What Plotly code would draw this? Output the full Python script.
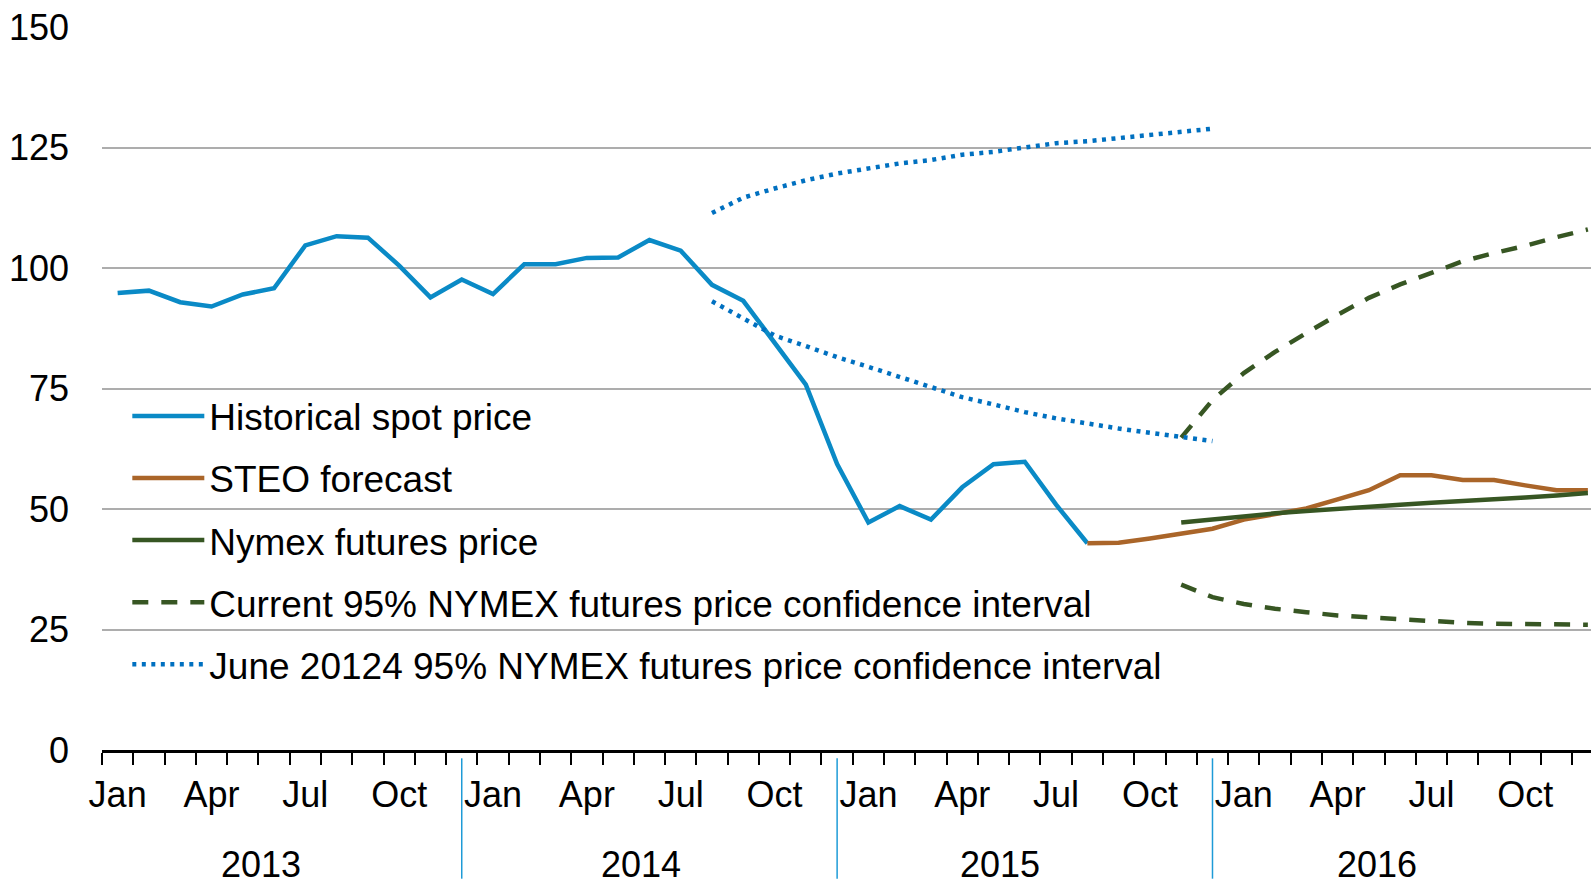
import plotly.graph_objects as go

# ---------------- data ----------------
years = ["2013", "2014", "2015", "2016"]
month_abbr = ["Jan", "Feb", "Mar", "Apr", "May", "Jun",
              "Jul", "Aug", "Sep", "Oct", "Nov", "Dec"]
months = [f"{m} {y}" for y in years for m in month_abbr]
tick_months = ["Jan", "Apr", "Jul", "Oct"]

historical_start = "Jan 2013"
historical = [94.8, 95.3, 92.9, 92.0, 94.5, 95.8, 104.7, 106.6, 106.3, 100.5, 93.9, 97.6,
              94.6, 100.8, 100.8, 102.1, 102.2, 105.8, 103.6, 96.5, 93.2, 84.4, 75.8, 59.3,
              47.2, 50.6, 47.8, 54.5, 59.3, 59.8, 50.9, 42.9]

steo_start = "Aug 2015"
steo = [42.9, 43.0, 43.9, 44.9, 45.9, 47.8, 48.9, 50.1, 52.0, 53.9, 57.0, 57.0,
        56.0, 56.0, 54.9, 53.9, 53.9]

nymex_start = "Nov 2015"
nymex = [47.2, 47.9, 48.5, 49.1, 49.6, 50.1, 50.5, 50.9, 51.3, 51.6, 52.0, 52.4, 52.8, 53.3]

current_ci_start = "Nov 2015"
current_ci_upper = [64.8, 72.6, 78.2, 82.6, 86.5, 90.3, 93.8, 96.6, 99.0, 101.4, 103.1,
                    104.6, 106.4, 108.0]
current_ci_lower = [34.3, 31.7, 30.3, 29.3, 28.6, 27.9, 27.5, 27.1, 26.7, 26.4, 26.2,
                    26.1, 26.0, 26.0]

june_ci_start = "Aug 2014"
june_ci_upper = [111.4, 114.6, 116.5, 118.2, 119.6, 120.6, 121.7, 122.4, 123.5, 124.1,
                 125.1, 125.9, 126.3, 127.0, 127.7, 128.4, 128.9]
june_ci_lower = [93.1, 89.5, 86.0, 83.8, 81.5, 79.5, 77.4, 75.2, 73.2, 71.7, 70.1,
                 68.8, 67.7, 66.7, 65.8, 64.9, 64.1]

series_names = ["Historical spot price", "STEO forecast", "Nymex futures price",
                "Current 95% NYMEX futures price confidence interval",
                "June 20124 95% NYMEX futures price confidence interval"]
y_ticks = [0, 25, 50, 75, 100, 125, 150]

# ---------------- helpers ----------------
def xs(start, n):
    i0 = months.index(start)
    return list(range(i0, i0 + n))

def band(start, upper, lower):
    x = xs(start, len(upper)) + [None] + xs(start, len(lower))
    y = list(upper) + [None] + list(lower)
    return x, y

FONT = "Liberation Sans, Arial, sans-serif"
C_HIST = "#0A8AC6"
C_STEO = "#AA6529"
C_GREEN = "#375623"
C_DOT = "#0070C0"

fig = go.Figure()

fig.add_trace(go.Scatter(x=xs(historical_start, len(historical)), y=historical,
                         mode="lines", name=series_names[0], legendgroup="a",
                         line=dict(color=C_HIST, width=4.5)))
fig.add_trace(go.Scatter(x=xs(steo_start, len(steo)), y=steo,
                         mode="lines", name=series_names[1], legendgroup="b",
                         line=dict(color=C_STEO, width=4.5)))
fig.add_trace(go.Scatter(x=xs(nymex_start, len(nymex)), y=nymex,
                         mode="lines", name=series_names[2], legendgroup="c",
                         line=dict(color=C_GREEN, width=4.5)))
cx, cy = band(current_ci_start, current_ci_upper, current_ci_lower)
fig.add_trace(go.Scatter(x=cx, y=cy, mode="lines", name=series_names[3], legendgroup="d",
                         connectgaps=False,
                         line=dict(color=C_GREEN, width=4.5, dash="16px,13px")))
jx, jy = band(june_ci_start, june_ci_upper, june_ci_lower)
fig.add_trace(go.Scatter(x=jx, y=jy, mode="lines", name=series_names[4], legendgroup="e",
                         connectgaps=False,
                         line=dict(color=C_DOT, width=4.5, dash="4px,5.5px")))

# month tick labels
tick_vals = [i for i, m in enumerate(months) if m.split()[0] in tick_months]
tick_text = [months[i].split()[0] for i in tick_vals]

fig.update_xaxes(
    range=[-0.5, 47.1],
    tickmode="array", tickvals=tick_vals, ticktext=tick_text,
    ticks="", showgrid=False, zeroline=False,
    showline=True, linecolor="black", linewidth=3,
    tickfont=dict(family=FONT, size=36, color="black"),
    ticklabelstandoff=11,
    minor=dict(tickmode="linear", tick0=-0.5, dtick=1, ticks="outside",
               ticklen=12, tickwidth=2, tickcolor="black", showgrid=False),
)
fig.update_yaxes(
    range=[0, 150], tickmode="array", tickvals=y_ticks,
    showgrid=True, gridcolor="#ADADAD", gridwidth=2, zeroline=False,
    showline=False, ticks="",
    tickfont=dict(family=FONT, size=36, color="black"),
    ticklabelstandoff=32,
)

# year separators and labels
year_sep_pos = [11, 23, 35]
for xp in year_sep_pos:
    fig.add_shape(type="line", xref="x", yref="paper", x0=xp, x1=xp,
                  y0=-0.0115, y1=-0.178, line=dict(color="#1E9BD7", width=1.5))
year_label_pos = [4.58, 16.73, 28.2, 40.25]
for yr, xp in zip(years, year_label_pos):
    fig.add_annotation(x=xp, y=-0.157, xref="x", yref="paper", text=yr,
                       showarrow=False, yanchor="middle", xanchor="center",
                       height=36, valign="middle",
                       font=dict(family=FONT, size=36, color="black"))

fig.update_layout(
    width=1591, height=883,
    margin=dict(l=102, r=0, t=27, b=133),
    plot_bgcolor="white", paper_bgcolor="white",
    font=dict(family=FONT, size=36, color="black"),
    showlegend=True,
    legend=dict(x=0.017, y=0.29, xanchor="left", yanchor="middle",
                bgcolor="rgba(0,0,0,0)", borderwidth=0,
                traceorder="grouped", tracegroupgap=11, itemwidth=72,
                font=dict(family=FONT, size=37, color="black")),
)

fig.write_html("out.html", config={"displayModeBar": False},
               post_script="document.body.style.margin='0';")
